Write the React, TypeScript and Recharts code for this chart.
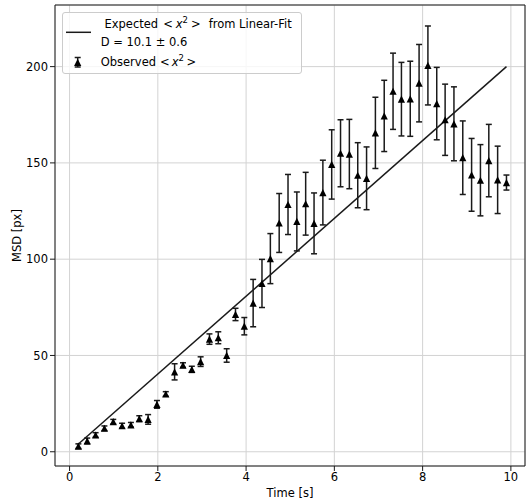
import {
  ComposedChart,
  Scatter,
  Line,
  XAxis,
  YAxis,
  CartesianGrid,
  ErrorBar,
  Legend,
  ReferenceArea,
} from "recharts";

// lag times [s]
const times = [
  0.2, 0.4, 0.59, 0.79, 0.99, 1.19, 1.39, 1.58, 1.78, 1.98,
  2.18, 2.38, 2.57, 2.77, 2.97, 3.17, 3.37, 3.56, 3.76, 3.96,
  4.16, 4.36, 4.55, 4.75, 4.95, 5.15, 5.35, 5.54, 5.74, 5.94,
  6.14, 6.34, 6.53, 6.73, 6.93, 7.13, 7.33, 7.52, 7.72, 7.92,
  8.12, 8.32, 8.51, 8.71, 8.91, 9.11, 9.31, 9.5, 9.7, 9.9,
];

// observed <x^2>
const msd = [
  2.9, 5.6, 8.7, 12.2, 15.6, 13.5, 14.0, 17.2, 16.8, 24.6,
  30.0, 41.5, 45.0, 42.8, 46.8, 58.5, 59.2, 50.0, 71.3, 65.2,
  77.2, 87.4, 100.3, 118.8, 128.4, 119.6, 128.8, 118.6, 134.6, 149.2,
  155.0, 154.6, 143.6, 142.0, 165.6, 174.4, 187.2, 183.1, 183.3, 191.4,
  200.6, 180.8, 172.4, 170.3, 152.7, 143.8, 141.0, 151.2, 141.2, 139.8,
];

// standard errors
const msdErr = [
  1.2, 1.5, 1.2, 1.2, 1.2, 1.3, 1.2, 1.5, 2.5, 2.0,
  1.2, 4.2, 1.2, 1.6, 2.5, 2.7, 3.1, 3.5, 3.2, 4.5,
  12.3, 12.5, 13.0, 15.3, 15.6, 15.3, 16.3, 15.8, 16.8, 18.0,
  17.4, 18.0, 16.9, 16.3, 18.5, 18.5, 19.8, 19.1, 19.5, 20.1,
  20.5, 18.8, 18.5, 19.2, 19.1, 18.9, 18.5, 18.8, 17.5, 3.9,
];

// linear fit end points, D = 10.1
const fitLine = [
  { t: 0.2, msd: 4.0 },
  { t: 9.9, msd: 200.0 },
];

const xTicks = [0, 2, 4, 6, 8, 10];
const yTicks = [0, 50, 100, 150, 200];

const X_DOMAIN: [number, number] = [-0.33, 10.32];
const Y_DOMAIN: [number, number] = [-7.4, 232];

const observed = times.map((t, i) => ({ t, msd: msd[i], err: msdErr[i] }));

const FONT = "'DejaVu Sans', sans-serif";
const INK = "#1a1a1a";

const Triangle = (props: any) => {
  const { cx, cy } = props;
  if (cx == null || cy == null) return null;
  const h = 3.6;
  return (
    <polygon
      points={`${cx},${cy - h} ${cx - h},${cy + h} ${cx + h},${cy + h}`}
      fill="#000"
    />
  );
};

const X2 = () => (
  <>
    <span style={{ fontStyle: "italic" }}>x</span>
    <span style={{ fontSize: 8.5, position: "relative", top: -5 }}>2</span>
  </>
);

const LegendBox = () => (
  <div
    style={{
      position: "relative",
      width: 240,
      height: 62,
      boxSizing: "border-box",
      border: "1px solid #cccccc",
      borderRadius: 3,
      background: "rgba(255,255,255,0.8)",
      fontFamily: FONT,
      fontSize: 11.5,
      color: "#000",
      whiteSpace: "nowrap",
    }}
  >
    <svg width={240} height={62} style={{ position: "absolute", left: -1, top: -1 }}>
      <line x1={4} y1={20.3} x2={29} y2={20.3} stroke={INK} strokeWidth={1.5} />
      <line x1={15.7} y1={45.5} x2={15.7} y2={55} stroke={INK} strokeWidth={1.5} />
      <line x1={12.7} y1={45.5} x2={18.7} y2={45.5} stroke={INK} strokeWidth={1.5} />
      <line x1={12.7} y1={55} x2={18.7} y2={55} stroke={INK} strokeWidth={1.5} />
      <polygon points="15.7,46.7 12.1,53.9 19.3,53.9" fill="#000" />
    </svg>
    <div style={{ position: "absolute", left: 41.5, top: 4, lineHeight: "14px" }}>
      Expected
      <span style={{ marginLeft: 5 }}>&lt;</span>
      <span style={{ marginLeft: 3 }} />
      <X2 />
      <span style={{ marginLeft: 3 }}>&gt;</span>
      <span style={{ marginLeft: 8 }}>from Linear-Fit</span>
    </div>
    <div style={{ position: "absolute", left: 37.7, top: 22, lineHeight: "14px" }}>
      D = 10.1 ± 0.6
    </div>
    <div style={{ position: "absolute", left: 37.7, top: 42, lineHeight: "14px" }}>
      Observed
      <span style={{ marginLeft: 4 }}>&lt;</span>
      <span style={{ marginLeft: 2 }} />
      <X2 />
      <span style={{ marginLeft: 2.5 }}>&gt;</span>
    </div>
  </div>
);

const tickStyle = { fontFamily: FONT, fontSize: 11.5, fill: "#000" };

export default function App() {
  return (
    <div style={{ position: "absolute", left: 0, top: 0, background: "#fff" }}>
      <ComposedChart
        width={527}
        height={500}
        margin={{ top: 5, right: 2, bottom: 0, left: 0 }}
      >
        <CartesianGrid stroke="#d3d3d3" strokeWidth={1} />
        <XAxis
          dataKey="t"
          type="number"
          domain={X_DOMAIN}
          ticks={xTicks}
          allowDataOverflow
          height={34}
          axisLine={false}
          tickLine={{ stroke: INK }}
          tickSize={5}
          tick={tickStyle}
          label={{
            value: "Time [s]",
            position: "insideBottom",
            offset: 3,
            style: { fontFamily: FONT, fontSize: 11.5, fill: "#000" },
          }}
        />
        <YAxis
          type="number"
          domain={Y_DOMAIN}
          ticks={yTicks}
          allowDataOverflow
          width={55}
          axisLine={false}
          tickLine={{ stroke: INK }}
          tickSize={5}
          tick={tickStyle}
          label={{
            value: "MSD [px]",
            angle: -90,
            position: "insideLeft",
            offset: 17,
            style: {
              fontFamily: FONT,
              fontSize: 11.5,
              fill: "#000",
              textAnchor: "middle",
            },
          }}
        />
        <ReferenceArea
          x1={X_DOMAIN[0]}
          x2={X_DOMAIN[1]}
          y1={Y_DOMAIN[0]}
          y2={Y_DOMAIN[1]}
          fill="none"
          stroke={INK}
          strokeWidth={1}
          ifOverflow="visible"
        />
        <Line
          data={fitLine}
          dataKey="msd"
          type="linear"
          dot={false}
          activeDot={false}
          stroke={INK}
          strokeWidth={1.5}
          isAnimationActive={false}
        />
        <Scatter
          data={observed}
          dataKey="msd"
          shape={Triangle}
          isAnimationActive={false}
        >
          <ErrorBar
            dataKey="err"
            direction="y"
            width={3}
            stroke={INK}
            strokeWidth={1.5}
            isAnimationActive={false}
          />
        </Scatter>
        <Legend
          layout="horizontal"
          verticalAlign="middle"
          align="center"
          wrapperStyle={{ top: 12, left: 62, width: 240, height: 62 }}
          content={() => <LegendBox />}
        />
      </ComposedChart>
    </div>
  );
}
